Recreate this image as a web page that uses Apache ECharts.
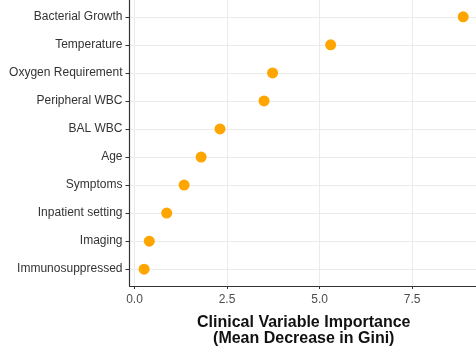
<!DOCTYPE html>
<html><head><meta charset="utf-8">
<script src="https://cdn.jsdelivr.net/npm/echarts@6/dist/echarts.min.js"></script>
<style>html,body{margin:0;padding:0;background:#fff}#c{width:476px;height:346px}</style>
</head><body><div id="c"></div>
<script>
const variables = ["Bacterial Growth","Temperature","Oxygen Requirement","Peripheral WBC","BAL WBC","Age","Symptoms","Inpatient setting","Imaging","Immunosuppressed"];
const importance = [8.88,5.30,3.73,3.50,2.31,1.80,1.34,0.87,0.40,0.26];
const xTicks = [0,2.5,5,7.5];
const xTickLabels = ["0.0","2.5","5.0","7.5"];
const axisTitle = "Clinical Variable Importance\n(Mean Decrease in Gini)";

const n = variables.length;
const yPositions = variables.map((v, i) => n - i);
const points = importance.map((v, i) => [v, yPositions[i]]);

const chart = echarts.init(document.getElementById('c'), null, {renderer: 'canvas'});
chart.setOption({
  animation: false,
  backgroundColor: '#ffffff',
  grid: {left: 129.5, right: -2, top: 0, bottom: 60, containLabel: false, outerBoundsMode: 'none'},
  xAxis: {
    type: 'value', min: -0.135, max: 9.28,
    axisLine: {show: true, onZero: false, lineStyle: {color: '#333333', width: 1.2}},
    axisTick: {show: true, length: 3, customValues: xTicks, lineStyle: {color: '#333333', width: 1}},
    axisLabel: {customValues: xTicks, margin: 8, color: '#4d4d4d', fontSize: 12, fontFamily: 'Liberation Sans, Arial, sans-serif',
      formatter: v => xTickLabels[xTicks.indexOf(v)] ?? ''},
    splitLine: {show: true, lineStyle: {color: '#ebebeb', width: 1}},
    name: axisTitle, nameLocation: 'middle', nameGap: 29,
    nameTextStyle: {color: '#111111', fontSize: 16, fontWeight: 'bold', fontFamily: 'Liberation Sans, Arial, sans-serif', lineHeight: 16}
  },
  yAxis: {
    type: 'value', min: 0.4, max: 10.6,
    axisLine: {show: true, onZero: false, lineStyle: {color: '#333333', width: 1.2}},
    axisTick: {show: true, length: 4, customValues: yPositions, lineStyle: {color: '#333333', width: 1}},
    axisLabel: {customValues: yPositions, margin: 7, color: '#333333', fontSize: 12, fontFamily: 'Liberation Sans, Arial, sans-serif',
      formatter: v => variables[n - Math.round(v)] ?? ''},
    splitLine: {show: true, lineStyle: {color: '#ebebeb', width: 1}}
  },
  series: [{
    type: 'scatter', data: points, symbol: 'circle', symbolSize: 11,
    itemStyle: {color: '#FFA500', opacity: 1}
  }]
});
</script></body></html>
